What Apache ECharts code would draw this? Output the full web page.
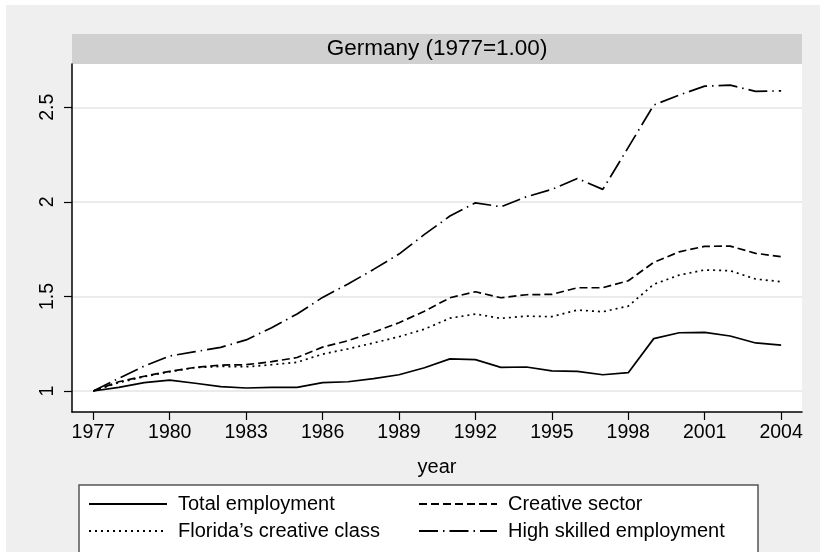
<!DOCTYPE html>
<html>
<head>
<meta charset="utf-8">
<script src="https://cdn.jsdelivr.net/npm/echarts@6/dist/echarts.min.js"></script>
<style>
  html, body { margin: 0; padding: 0; background: #fff; }
  #chart { width: 820px; height: 552px; }
</style>
</head>
<body>
<div id="chart"></div>
<script>
var chart = echarts.init(document.getElementById("chart"));

// years 1977..2004
var years = [1977,1978,1979,1980,1981,1982,1983,1984,1985,1986,1987,1988,1989,1990,
             1991,1992,1993,1994,1995,1996,1997,1998,1999,2000,2001,2002,2003,2004];

var totalEmployment = [1.000,1.019,1.044,1.058,1.041,1.023,1.016,1.019,1.019,1.044,1.049,1.065,1.086,1.123,
                       1.170,1.166,1.125,1.127,1.106,1.104,1.086,1.097,1.277,1.308,1.310,1.291,1.254,1.243];
var creativeSector = [1.000,1.049,1.078,1.104,1.125,1.137,1.139,1.155,1.177,1.232,1.266,1.311,1.361,1.422,
                      1.493,1.525,1.493,1.509,1.511,1.546,1.546,1.583,1.680,1.736,1.765,1.766,1.728,1.710];
var floridaClass = [1.000,1.044,1.076,1.102,1.124,1.130,1.128,1.139,1.152,1.195,1.223,1.254,1.287,1.327,
                    1.385,1.407,1.384,1.396,1.393,1.428,1.419,1.449,1.564,1.613,1.640,1.636,1.592,1.578];
var highSkilled = [1.000,1.067,1.132,1.185,1.208,1.231,1.270,1.335,1.407,1.495,1.566,1.643,1.724,1.828,
                   1.925,1.995,1.974,2.027,2.066,2.124,2.066,2.288,2.512,2.565,2.612,2.617,2.584,2.587];

var xTicks = [1977,1980,1983,1986,1989,1992,1995,1998,2001,2004];
var yTicks = [1, 1.5, 2, 2.5];

var names = ['Total employment', 'Creative sector', "Florida\u2019s creative class", 'High skilled employment'];
var dashes = ['solid', [8, 4], [2, 4], [19, 5, 1.5, 5]];
var allData = [totalEmployment, creativeSector, floridaClass, highSkilled];

var font = 'Liberation Sans, Arial, sans-serif';

function pairs(vals) {
    return years.map(function (y, i) { return [y, vals[i]]; });
}

var series = allData.map(function (vals, i) {
    return {
        name: names[i],
        type: 'line',
        data: pairs(vals),
        symbol: 'none',
        lineStyle: { color: '#000', width: 1.7, type: dashes[i] },
        itemStyle: { color: '#000' }
    };
});

var legendPos = [[88, 494], [418, 494], [88, 521], [418, 521]];
var legends = names.map(function (n, i) {
    return {
        data: [n],
        left: legendPos[i][0],
        top: legendPos[i][1],
        padding: 0,
        itemWidth: 78,
        itemHeight: 20,
        itemGap: 0,
        selectedMode: false,
        itemStyle: { opacity: 0 },
        textStyle: { fontFamily: font, fontSize: 20, color: '#000', padding: [0, 0, 0, 6] }
    };
});

var option = {
    backgroundColor: '#fff',
    animation: false,
    title: {
        text: 'Germany (1977=1.00)',
        left: 437,
        textAlign: 'center',
        top: 37,
        padding: 0,
        textStyle: { fontFamily: font, fontSize: 22.5, fontWeight: 'normal', color: '#000', lineHeight: 24 }
    },
    graphic: [
        { type: 'rect', z: -10, shape: { x: 6, y: 5, width: 820, height: 560 }, style: { fill: '#efefef' } },
        { type: 'rect', z: -5, shape: { x: 72, y: 34, width: 730, height: 30 }, style: { fill: '#d0d0d0' } },
        { type: 'rect', z: -5, shape: { x: 79, y: 485, width: 679, height: 80 },
          style: { fill: '#fff', stroke: '#555', lineWidth: 1.5 } }
    ],
    legend: legends,
    grid: {
        left: 72, right: 18, top: 64, bottom: 140,
        show: true, backgroundColor: '#fff', borderWidth: 0
    },
    xAxis: {
        type: 'value',
        min: 1976.164,
        max: 2004.82,
        name: 'year',
        nameLocation: 'middle',
        nameGap: 45,
        nameTextStyle: { fontFamily: font, fontSize: 20, color: '#000' },
        axisLine: { show: true, lineStyle: { color: '#000', width: 1.5 } },
        axisTick: { show: true, length: 8, customValues: xTicks, lineStyle: { color: '#000', width: 1.2 } },
        axisLabel: { customValues: xTicks, margin: 11, fontFamily: font, fontSize: 19.5, color: '#000',
                     formatter: function (v) { return String(v); } },
        splitLine: { show: false }
    },
    yAxis: {
        type: 'value',
        min: 0.889,
        max: 2.729,
        axisLine: { show: true, lineStyle: { color: '#000', width: 1.5 } },
        axisTick: { show: true, length: 8, customValues: yTicks, lineStyle: { color: '#000', width: 1.2 } },
        axisLabel: { customValues: yTicks, rotate: 90, margin: 14, fontFamily: font, fontSize: 19.5, color: '#000',
                     formatter: function (v) { return String(v); } },
        splitLine: { show: true, lineStyle: { color: '#e4e4e4', width: 1.5 } }
    },
    series: series
};
chart.setOption(option);
</script>
</body>
</html>
